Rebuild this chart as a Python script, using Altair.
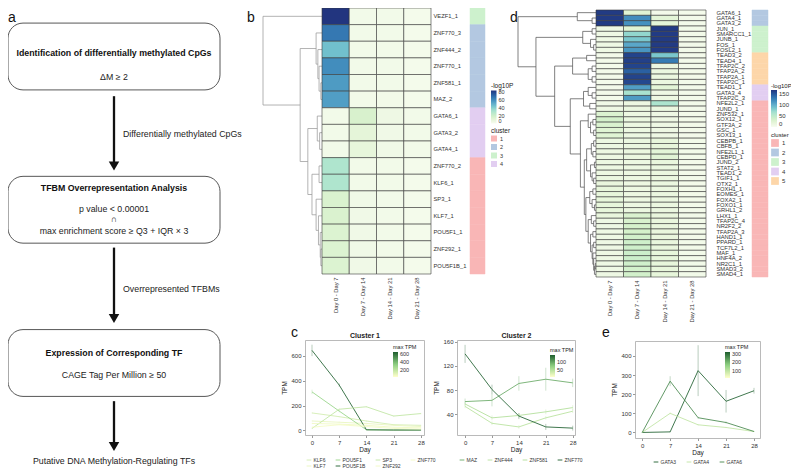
import altair as alt
import pandas as pd

FONT = "Liberation Sans"
W, H = 783, 460
M = 8  # page margin: reference pixel -> chart pixel


def X(v):
    return v - M


def Y(v):
    return v - M


# ------------------------------------------------------------------ data
# a: workflow
STEP_TITLES = ["Identification of differentially methylated CpGs",
               "TFBM Overrepresentation Analysis",
               "Expression of Corresponding TF"]
STEP_CRITERIA = [["ΔM ≥ 2"],
                 ["p value < 0.00001", "∩", "max enrichment score ≥ Q3 + IQR × 3"],
                 ["CAGE Tag Per Million ≥ 50"]]
ARROW_LABELS = ["Differentially methylated CpGs", "Overrepresented TFBMs"]
FINAL_TEXT = "Putative DNA Methylation-Regulating TFs"

# b / d heatmaps (-log10 P)
DAY_COLS = ["Day 0 - Day 7", "Day 7 - Day 14", "Day 14 - Day 21", "Day 21 - Day 28"]
CL_NAMES = ["1", "2", "3", "4", "5"]

B_ROWS = ["VEZF1_1", "ZNF770_3", "ZNF444_2", "ZNF770_1", "ZNF581_1", "MAZ_2",
          "GATA6_1", "GATA3_2", "GATA4_1", "ZNF770_2", "KLF6_1", "SP3_1",
          "KLF7_1", "POU5F1_1", "ZNF292_1", "POU5F1B_1"]
B_CLUSTER = ["3", "2", "2", "2", "2", "2", "4", "4", "4", "1", "1", "1", "1", "1", "1", "1"]
B_D0_7 = [84, 66, 45, 60, 56, 55, 3, 3, 3, 30, 30, 15, 15, 14, 14, 14]
B_D7_14 = [3, 3, 3, 3, 3, 3, 16, 10, 9, 3, 3, 4, 4, 4, 4, 4]
B_D14_21 = [3, 3, 3, 3, 3, 3, 5, 4, 4, 3, 3, 3, 3, 3, 3, 3]
B_D21_28 = [2, 2, 2, 2, 2, 2, 3, 3, 3, 2, 2, 2, 2, 2, 2, 2]

D_ROWS = ["GATA6_1", "GATA4_1", "GATA3_2", "JUN_1", "SMARCC1_1", "JUNB_1", "FOS_1",
          "FOSL2_1", "TEAD3_2", "TEAD4_1", "TFAP2C_2", "TFAP2A_2", "TFAP2A_1",
          "TFAP2C_1", "TEAD1_1", "GATA3_4", "TFAP2C_3", "NFE2L2_1", "JUND_1",
          "ZNF532_1", "SOX12_1", "GTF3A_2", "GSC_1", "SOX13_1", "CEBPB_1", "CBFB_1",
          "NFE2L1_1", "CEBPD_1", "JUND_2", "STAT2_1", "TEAD1_2", "TGIF1_1", "OTX2_1",
          "FOXH1_1", "EOMES_1", "FOXA2_1", "FOXO1_1", "GRHL1_2", "LHX1_1", "TFAP2C_4",
          "NR2F2_2", "TFAP2A_3", "HAND1_1", "PPARD_1", "TCF7L2_1", "MAF_1", "HNF4A_2",
          "NR2C1_1", "SMAD3_2", "SMAD4_1"]
D_CLUSTER = ["2", "2", "2", "3", "3", "3", "3", "3", "5", "5", "5", "5", "5", "5",
             "4", "4", "4", "1", "1", "1", "1", "1", "1", "1", "1", "1", "1", "1",
             "1", "1", "1", "1", "1", "1", "1", "1", "1", "1", "1", "1", "1", "1",
             "1", "1", "1", "1", "1", "1", "1", "1"]
D_D0_7 = [165, 165, 165, 10, 10, 9, 9, 9, 5, 5, 4, 4, 4, 4, 5, 5, 4, 8, 10,
          28, 35, 30, 25, 25, 12, 12, 12, 12, 12, 12, 12, 14, 16, 18, 18, 18,
          18, 18, 16, 10, 10, 10, 10, 10, 10, 10, 10, 10, 10, 10]
D_D7_14 = [25, 120, 118, 25, 75, 85, 105, 115, 160, 162, 160, 145, 160, 158,
           110, 65, 112, 12, 14, 12, 14, 12, 12, 12, 14, 14, 14, 14, 12, 12, 12,
           12, 12, 12, 12, 12, 12, 14, 30, 32, 34, 34, 36, 38, 38, 40, 40, 38, 36, 36]
D_D14_21 = [5, 22, 20, 165, 165, 165, 165, 165, 85, 130, 14, 14, 14, 14, 22, 10,
            12, 62, 14, 10, 10, 10, 10, 10, 18, 18, 22, 24, 16, 14, 14, 14, 14,
            14, 14, 14, 14, 14, 16, 16, 16, 16, 16, 16, 16, 18, 18, 18, 18, 18]
D_D21_28 = [4, 5, 5, 6, 6, 6, 6, 6, 5, 5, 5, 5, 5, 5, 5, 5, 5, 6, 5, 5, 5, 5,
            5, 5, 6, 6, 6, 6, 5, 5, 5, 5, 5, 5, 5, 5, 5, 5, 6, 6, 6, 6, 6, 6,
            6, 6, 6, 6, 6, 6]

# dendrograms: (merge height, left, right), leaves are row indices
B_T_2 = (0.10, 1, (0.07, 2, (0.05, 3, (0.02, 4, 5))))
B_T_4 = (0.08, 6, (0.04, 7, 8))
B_T_1 = (0.17, (0.05, 9, 10), (0.10, 11, (0.06, 12, (0.03, 13, (0.02, 14, 15)))))
B_TREE = (1.0, 0, (0.37, B_T_2, (0.24, B_T_4, B_T_1)))

D_T_C2 = (0.24, 0, (0.05, 1, 2))
D_T_C3 = (0.17, (0.05, 3, 4), (0.07, 5, (0.03, 6, 7)))
D_T_C5 = (0.30, (0.12, 8, 9), (0.10, (0.05, 10, 11), (0.05, 12, 13)))
D_T_C4 = (0.16, (0.10, 14, (0.05, 15, 16)), (0.08, 17, 18))
D_T_A = (0.10, 19, (0.07, (0.04, 20, 21), (0.03, 22, 23)))
D_T_B = (0.12, (0.06, (0.03, 24, 25), (0.04, 26, 27)),
         (0.07, (0.02, 28, 29), (0.05, 30, (0.03, 31, 32))))
D_T_C = (0.08, (0.04, 33, 34), (0.05, 35, (0.02, 36, 37)))
D_T_D = (0.10, (0.06, 38, (0.03, 39, 40)),
         (0.07, (0.04, 41, 42), (0.05, (0.03, 43, 44),
                                 (0.04, 45, (0.03, 46, (0.02, (0.01, 47, 48), 49))))))
D_TREE = (1.0, D_T_C2, (0.77, D_T_C3, (0.53, D_T_C5, (0.33, D_T_C4,
          (0.20, D_T_A, (0.15, D_T_B, (0.13, D_T_C, D_T_D)))))))

# c / e expression (TPM)
DAYS = [0, 7, 14, 21, 28]
C1_GENES = ["KLF6", "KLF7", "POU5F1", "POU5F1B", "SP3", "ZNF292", "ZNF770"]
C1_KLF6 = [140, 110, 75, 45, 40]
C1_KLF7 = [75, 65, 55, 40, 30]
C1_POU5F1 = [310, 155, 4, 2, 2]
C1_POU5F1B = [645, 365, 4, 2, 2]
C1_SP3 = [15, 170, 190, 115, 135]
C1_ZNF292 = [55, 50, 40, 25, 20]
C1_ZNF770 = [25, 45, 30, 15, 10]
C1_ERR_POU5F1B = [46, 12, 2, 1, 1]
C1_ERR_POU5F1 = [18, 10, 2, 1, 1]
C1_ERR_OTHER = [5, 6, 6, 5, 5]

C2_GENES = ["MAZ", "ZNF444", "ZNF581", "ZNF770"]
C2_MAZ = [61, 63, 91, 98, 92]
C2_ZNF444 = [53, 25, 19, 34, 45]
C2_ZNF581 = [57, 34, 38, 44, 51]
C2_ZNF770 = [140, 81, 37, 19, 17]
C2_ERR_MAZ = [5, 10, 12, 19, 7]
C2_ERR_ZNF444 = [3, 3, 3, 3, 3]
C2_ERR_ZNF581 = [4, 4, 4, 4, 4]
C2_ERR_ZNF770 = [15, 8, 5, 5, 4]

E_GENES = ["GATA3", "GATA4", "GATA6"]
E_GATA3 = [0, 3, 323, 163, 218]
E_GATA4 = [0, 100, 40, 26, 5]
E_GATA6 = [0, 268, 77, 52, 5]
E_ERR_GATA3 = [1, 2, 133, 59, 15]
E_ERR_GATA4 = [1, 5, 4, 3, 2]
E_ERR_GATA6 = [1, 26, 5, 5, 2]

GRAD_LO = 12  # low end of the "max TPM" colour bars

# ------------------------------------------------------------------ styles
HEAT = ["#F7FCF0", "#D6F1CB", "#A6E1D0", "#62AECC", "#3374B0", "#22357F"]
CL_COLORS = ["#F9B6B6", "#B3C8E1", "#CDF1CD", "#E2CEF1", "#FDD6A9"]
LINE_STOPS = ["#FFFFCC", "#8ED081", "#1E5E2E"]


def hex_rgb(h):
    h = h.lstrip("#")
    return tuple(int(h[i:i + 2], 16) for i in (0, 2, 4))


def ramp(t, stops):
    t = min(max(t, 0.0), 1.0)
    n = len(stops) - 1
    i = min(int(t * n), n - 1)
    f = t * n - i
    a, b = hex_rgb(stops[i]), hex_rgb(stops[i + 1])
    return "#%02x%02x%02x" % tuple(int(round(a[k] + (b[k] - a[k]) * f)) for k in range(3))


def tree_segments(node, out):
    if isinstance(node, int):
        return 0.0, node + 0.5
    h, left, right = node
    hl, yl = tree_segments(left, out)
    hr, yr = tree_segments(right, out)
    out.append({"h0": hl, "h1": h, "p0": yl, "p1": yl})
    out.append({"h0": hr, "h1": h, "p0": yr, "p1": yr})
    out.append({"h0": h, "h1": h, "p0": yl, "p1": yr})
    return h, (yl + yr) / 2


def qs(domain, r0, r1, **kw):
    return alt.Scale(domain=domain, range=[r0, r1], nice=False, zero=False, **kw)


layers = []

# ------------------------------------------------------------------ a: workflow
fx = qs([0, 1], X(8), X(220))
fy = qs([0, 2], Y(56.5), Y(363))
BOX_TITLE_POS = [-0.026, 0.861, 1.935]
CRIT_POS = [[0.131], [0.992, 1.060, 1.136], [2.079]]
ARROW_SPAN = [[0.259, 0.715], [1.247, 1.71], [2.249, 2.545]]
ARROW_LABEL_POS = [0.507, 1.516]
FINAL_POS = 2.642

steps_df = pd.DataFrame({"stage": [0, 1, 2], "title": STEP_TITLES, "pos": BOX_TITLE_POS})
layers.append(
    alt.Chart(steps_df)
    .transform_calculate(lo="datum.stage - 0.218", hi="datum.stage + 0.218", l="0", r="1")
    .mark_rect(cornerRadius=15, fillOpacity=0, stroke="#444444", strokeWidth=0.9)
    .encode(x=alt.X("l:Q", scale=fx, axis=None), x2="r:Q",
            y=alt.Y("lo:Q", scale=fy, axis=None), y2="hi:Q")
)
layers.append(
    alt.Chart(steps_df).transform_calculate(c="0.5")
    .mark_text(fontSize=8.8, fontWeight="bold", color="#111111")
    .encode(x=alt.X("c:Q", scale=fx, axis=None), y=alt.Y("pos:Q", scale=fy, axis=None), text="title:N")
)
crit_df = pd.DataFrame({
    "text": [t for lines in STEP_CRITERIA for t in lines] + [FINAL_TEXT],
    "pos": [p for ps in CRIT_POS for p in ps] + [FINAL_POS],
})
layers.append(
    alt.Chart(crit_df).transform_calculate(c="0.5")
    .mark_text(fontSize=8.8, color="#222222")
    .encode(x=alt.X("c:Q", scale=fx, axis=None), y=alt.Y("pos:Q", scale=fy, axis=None), text="text:N")
)
arrow_df = pd.DataFrame({"y0": [s[0] for s in ARROW_SPAN], "y1": [s[1] for s in ARROW_SPAN]})
layers.append(
    alt.Chart(arrow_df).transform_calculate(c="0.5")
    .mark_rule(color="#111111", strokeWidth=2.3)
    .encode(x=alt.X("c:Q", scale=fx, axis=None), y=alt.Y("y0:Q", scale=fy, axis=None), y2="y1:Q")
)
layers.append(
    alt.Chart(arrow_df).transform_calculate(c="0.5")
    .mark_point(shape="triangle-down", filled=True, size=110, color="#111111", opacity=1)
    .encode(x=alt.X("c:Q", scale=fx, axis=None), y=alt.Y("y1:Q", scale=fy, axis=None))
)
alab_df = pd.DataFrame({"text": ARROW_LABELS, "pos": ARROW_LABEL_POS})
layers.append(
    alt.Chart(alab_df).transform_calculate(c="0.5")
    .mark_text(fontSize=8.8, color="#222222", align="left", dx=9)
    .encode(x=alt.X("c:Q", scale=fx, axis=None), y=alt.Y("pos:Q", scale=fy, axis=None), text="text:N")
)

# ------------------------------------------------------------------ b / d heatmaps
HEAT_AX = dict(ticks=False, domain=False, labelColor="#333333", title=None, grid=False,
               labelOverlap=False, labelLimit=300)


def heat_panel(rows, cols, clusters, tree, g):
    n = len(rows)
    long = pd.DataFrame({
        "row": [r for _ in DAY_COLS for r in rows],
        "col": [c for c in DAY_COLS for _ in rows],
        "v": [v for vals in cols for v in vals],
    })
    xs = alt.Scale(domain=DAY_COLS, range=[X(g["x0"]), X(g["x1"])], paddingInner=0, paddingOuter=0)
    ys = alt.Scale(domain=rows, range=[Y(g["y0"]), Y(g["y1"])], paddingInner=0, paddingOuter=0)
    out = []
    segs = []
    tree_segments(tree, segs)
    out.append(
        alt.Chart(pd.DataFrame(segs)).mark_rule(color=g["dc"], strokeWidth=0.75)
        .encode(x=alt.X("h0:Q", scale=qs([0, 1], X(g["x0"]), X(g["root"])), axis=None), x2="h1:Q",
                y=alt.Y("p0:Q", scale=qs([0, n], Y(g["y0"]), Y(g["y1"])), axis=None), y2="p1:Q")
    )
    out.append(
        alt.Chart(long).mark_rect(stroke="#3a3a3a", strokeWidth=0.6)
        .encode(
            x=alt.X("col:N", scale=xs,
                    axis=alt.Axis(orient="bottom", offset=Y(g["y1"]) - H, labelAngle=270,
                                  labelPadding=3, labelFontSize=5.8, **HEAT_AX)),
            y=alt.Y("row:N", scale=ys,
                    axis=alt.Axis(orient="right", offset=X(g["lab"]) - W, labelPadding=0,
                                  labelFontSize=5.8, **HEAT_AX)),
            color=alt.Color("v:Q", scale=alt.Scale(domain=[0, g["hmax"]], range=HEAT),
                            legend=alt.Legend(orient="none", legendX=X(g["hx"]), legendY=Y(g["hy"]),
                                              direction="vertical", title="-log10P", values=g["hvals"],
                                              gradientLength=g["gl"], gradientThickness=g["gt"],
                                              gradientStrokeWidth=0, titleFontSize=g["tfs"],
                                              titleFontWeight="normal", labelFontSize=g["lfs"],
                                              titlePadding=1, labelOverlap=False, labelOffset=2)),
        )
    )
    ncl = g["ncl"]
    cl_scale = alt.Scale(domain=CL_NAMES[:ncl], range=CL_COLORS[:ncl])
    out.append(
        alt.Chart(pd.DataFrame({"row": rows, "cluster": clusters}))
        .transform_calculate(k="'cluster'")
        .mark_rect(strokeWidth=0.5)
        .encode(
            x=alt.X("k:N", scale=alt.Scale(domain=["cluster"], range=[X(g["b0"]), X(g["b1"])],
                                           paddingInner=0, paddingOuter=0), axis=None),
            y=alt.Y("row:N", scale=ys, axis=None),
            fill=alt.Fill("cluster:N", scale=cl_scale,
                          legend=alt.Legend(orient="none", legendX=X(g["hx"]), legendY=Y(g["cy"]),
                                            title="cluster", symbolType="square", symbolSize=g["ss"],
                                            symbolStrokeWidth=0, titleFontSize=g["tfs"],
                                            titleFontWeight="normal", labelFontSize=g["lfs"],
                                            rowPadding=g["rp"], titlePadding=1, labelOffset=3)),
            stroke=alt.Stroke("cluster:N", scale=cl_scale, legend=None),
        )
    )
    return out


layers += heat_panel(B_ROWS, [B_D0_7, B_D7_14, B_D14_21, B_D21_28], B_CLUSTER, B_TREE,
                     dict(x0=322, x1=431, y0=8, y1=274, lab=433, b0=470, b1=485, root=263,
                          dc="#9a9a9a", hmax=84, hvals=[0, 20, 40, 60, 80], hx=491, hy=83,
                          gl=33, gt=5.5, lfs=5.5, tfs=6.5, cy=128, ss=36, rp=1.5, ncl=4))
layers += heat_panel(D_ROWS, [D_D0_7, D_D7_14, D_D14_21, D_D21_28], D_CLUSTER, D_TREE,
                     dict(x0=596, x1=706, y0=10, y1=277, lab=716, b0=752, b1=768, root=518,
                          dc="#555555", hmax=168, hvals=[0, 50, 100, 150], hx=771, hy=83,
                          gl=37, gt=6, lfs=6, tfs=6, cy=132, ss=60, rp=1.5, ncl=5))

# ------------------------------------------------------------------ c / e line charts
AX_LINE = dict(domainColor="#a8a8a8", domainWidth=0.8, tickColor="#555555", tickWidth=0.6,
               tickSize=2.5, labelFontSize=6, labelColor="#333333", titleFontSize=6.5,
               titleFontWeight="normal", titleColor="#222222", labelPadding=1.5, grid=False,
               labelFlush=False, labelOverlap=False)
FRAME = dict(ticks=False, labels=False, domainColor="#a8a8a8", domainWidth=0.8, grid=False)


def line_panel(genes, tpm, err, g):
    maxes = {k: max(tpm[k]) for k in genes}
    hi = max(maxes.values())
    col = {k: ramp((maxes[k] - GRAD_LO) / (hi - GRAD_LO), LINE_STOPS) for k in genes}
    df = pd.DataFrame({
        "gene": [k for k in genes for _ in DAYS],
        "day": [d for _ in genes for d in DAYS],
        "tpm": [v for k in genes for v in tpm[k]],
        "err": [v for k in genes for v in err[k]],
    })
    df["maxtpm"] = df["gene"].map(maxes)
    xs = qs(g["xdom"], X(g["x0"]), X(g["x1"]))
    ys = qs(g["ydom"], Y(g["y0"]), Y(g["y1"]))
    gs = alt.Scale(domain=genes, range=[col[k] for k in genes])
    base = alt.Chart(df)
    top_axis = alt.Axis(orient="top", offset=-Y(g["y1"]), title=g["title"], titleFontSize=7,
                        titleFontWeight="bold", titleColor="#222222", titlePadding=1.5, **FRAME)
    out = [
        base.transform_calculate(lo="datum.tpm - datum.err", hi="datum.tpm + datum.err")
        .mark_rule(strokeWidth=0.8, strokeOpacity=0.4)
        .encode(
            x=alt.X("day:Q", scale=xs, axis=top_axis),
            y=alt.Y("lo:Q", scale=ys,
                    axis=alt.Axis(orient="right", offset=X(g["x1"]) - W, title=None, **FRAME)),
            y2="hi:Q",
            stroke=alt.Stroke("gene:N", scale=gs, legend=None),
        ),
        base.mark_line(strokeWidth=0.85)
        .encode(
            x=alt.X("day:Q", scale=xs,
                    axis=alt.Axis(orient="bottom", offset=Y(g["y0"]) - H, values=DAYS,
                                  title="Day", titlePadding=1, **AX_LINE)),
            y=alt.Y("tpm:Q", scale=ys,
                    axis=alt.Axis(orient="left", offset=-X(g["x0"]), values=g["yvals"],
                                  title="TPM", titlePadding=3, **AX_LINE)),
            stroke=alt.Stroke("gene:N", scale=gs,
                              legend=alt.Legend(orient="none", legendX=X(g["lx"]), legendY=Y(g["ly"]),
                                                columns=g["cols"], title=None, symbolType="stroke",
                                                symbolSize=22, symbolStrokeWidth=0.9, labelFontSize=5,
                                                labelColor="#333333", labelOffset=1.5, rowPadding=-0.5,
                                                columnPadding=7)),
        ),
        base.mark_point(size=0, filled=True, opacity=1)
        .encode(
            x=alt.X("day:Q", scale=xs, axis=None),
            y=alt.Y("tpm:Q", scale=ys, axis=None),
            color=alt.Color("maxtpm:Q",
                            scale=alt.Scale(domain=[GRAD_LO, hi], range=LINE_STOPS, interpolate="rgb"),
                            legend=alt.Legend(orient="none", legendX=X(g["gx"]), legendY=Y(g["gy"]),
                                              direction="vertical", title="max TPM", values=g["gvals"],
                                              gradientLength=g["gl"], gradientThickness=5,
                                              gradientStrokeWidth=0, titleFontSize=5.5,
                                              titleFontWeight="normal", labelFontSize=5.5,
                                              titlePadding=1.5, labelOverlap=False, labelOffset=2)),
        ),
    ]
    return out


layers += line_panel(
    C1_GENES,
    {"KLF6": C1_KLF6, "KLF7": C1_KLF7, "POU5F1": C1_POU5F1, "POU5F1B": C1_POU5F1B,
     "SP3": C1_SP3, "ZNF292": C1_ZNF292, "ZNF770": C1_ZNF770},
    {"KLF6": C1_ERR_OTHER, "KLF7": C1_ERR_OTHER, "POU5F1": C1_ERR_POU5F1,
     "POU5F1B": C1_ERR_POU5F1B, "SP3": C1_ERR_OTHER, "ZNF292": C1_ERR_OTHER,
     "ZNF770": C1_ERR_OTHER},
    dict(x0=305, x1=424, y0=435, y1=340, xdom=[-1.8, 28.8], ydom=[-38, 729],
         yvals=[0, 200, 400, 600], title="Cluster 1", gx=393, gy=345, gl=25,
         gvals=[200, 400, 600], lx=306, ly=457, cols=4))
layers += line_panel(
    C2_GENES,
    {"MAZ": C2_MAZ, "ZNF444": C2_ZNF444, "ZNF581": C2_ZNF581, "ZNF770": C2_ZNF770},
    {"MAZ": C2_ERR_MAZ, "ZNF444": C2_ERR_ZNF444, "ZNF581": C2_ERR_ZNF581, "ZNF770": C2_ERR_ZNF770},
    dict(x0=457, x1=575, y0=435, y1=340, xdom=[-2.1, 28.6], ydom=[5.6, 163],
         yvals=[40, 80, 120, 160], title="Cluster 2", gx=550, gy=348, gl=22,
         gvals=[50, 100], lx=459, ly=457, cols=4))
layers += line_panel(
    E_GENES,
    {"GATA3": E_GATA3, "GATA4": E_GATA4, "GATA6": E_GATA6},
    {"GATA3": E_ERR_GATA3, "GATA4": E_ERR_GATA4, "GATA6": E_ERR_GATA6},
    dict(x0=635, x1=760, y0=438, y1=341, xdom=[-1.8, 29.5], ydom=[-29, 478],
         yvals=[0, 100, 200, 300, 400], title=None, gx=725, gy=345, gl=26,
         gvals=[100, 200, 300], lx=653, ly=459, cols=3))

# ------------------------------------------------------------------ panel letters
for letter, lx, ly in [("a", 8, 11), ("b", 247, 11), ("c", 291, 326), ("d", 510, 11), ("e", 602, 326)]:
    layers.append(
        alt.Chart(pd.DataFrame({"t": [letter]}))
        .mark_text(fontSize=14, align="left", baseline="top", color="#111111")
        .encode(text="t:N", x=alt.value(X(lx)), y=alt.value(Y(ly)))
    )

chart = (
    alt.layer(*layers)
    .resolve_scale(x="independent", y="independent", color="independent",
                   fill="independent", stroke="independent")
    .properties(width=W, height=H, autosize=alt.AutoSizeParams(type="none"), padding=0)
    .configure_view(stroke=None)
    .configure_axis(labelFont=FONT, titleFont=FONT)
    .configure_legend(labelFont=FONT, titleFont=FONT, titleColor="#222222", labelColor="#333333")
    .configure_text(font=FONT)
)

chart.save("out.html", embed_options={"renderer": "svg", "actions": False})
